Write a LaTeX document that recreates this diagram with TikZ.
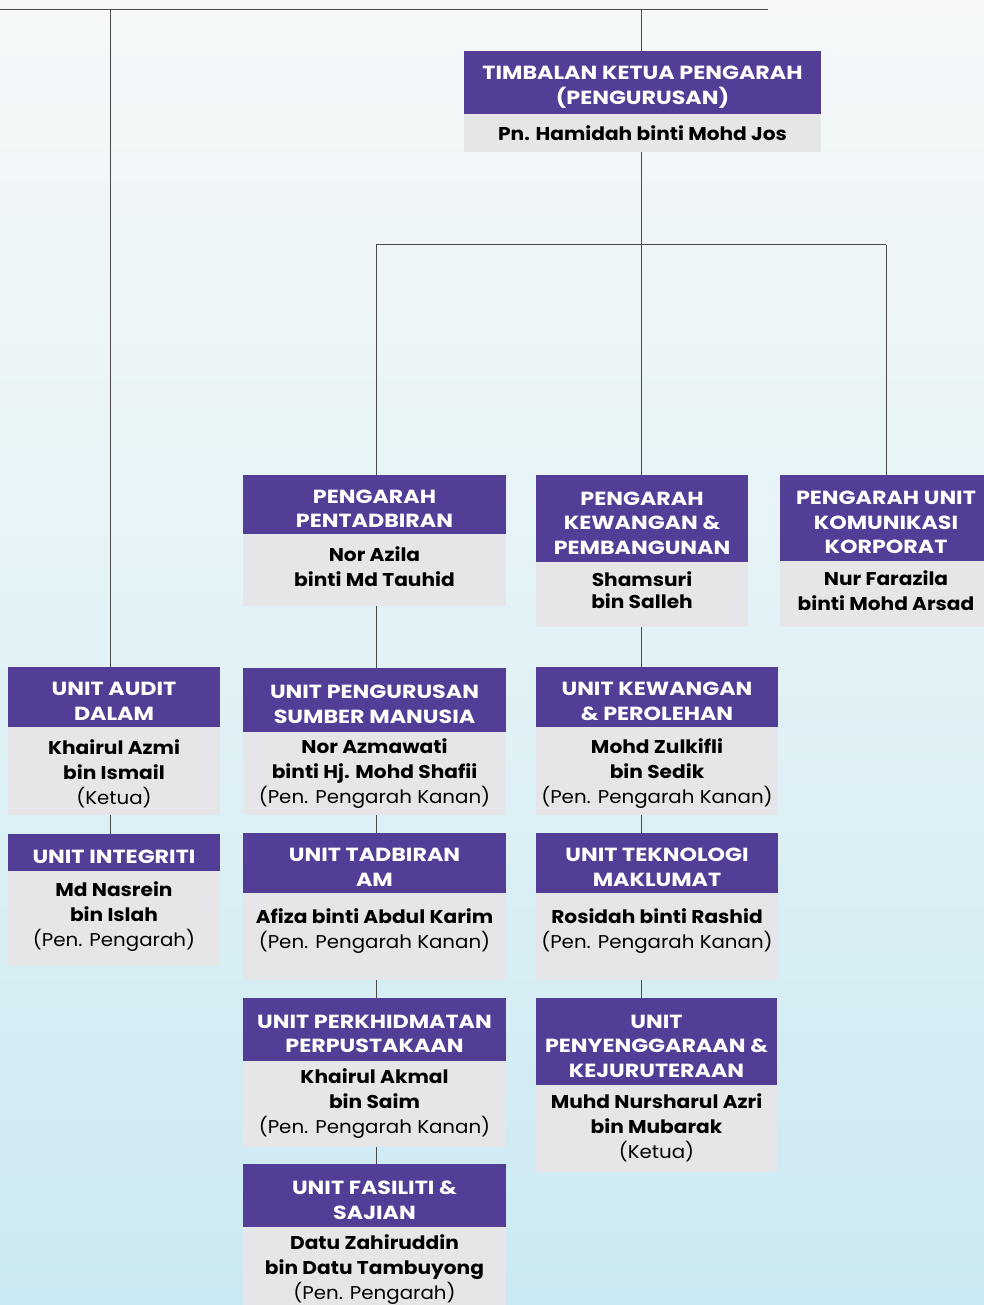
\documentclass[tikz,border=0pt]{standalone}
\usepackage{fontspec}
\setmainfont{Poppins}[UprightFeatures={FakeStretch=1.07}, BoldFeatures={FakeStretch=1.09}]
\newfontfamily\hdrfont{Poppins}[BoldFeatures={FakeStretch=1.17}]
\definecolor{purp}{HTML}{523E96}
\definecolor{greyb}{HTML}{E6E6E8}
\definecolor{bgtop}{HTML}{F6F8F9}
\definecolor{bgmid}{HTML}{E2F2F6}
\definecolor{bgbot}{HTML}{CBE9F2}
\definecolor{lnc}{HTML}{4A4A4A}
\tikzset{
 hdr/.style={fill=purp, inner sep=0pt},
 hdrtxt/.style={text=white, font=\hdrfont\bfseries\fontsize{19}{24.5}\selectfont, align=center, inner sep=0pt},
 bodybox/.style={fill=greyb, inner sep=0pt},
 bodytxt/.style={font=\fontsize{18.5}{25}\selectfont, align=center, inner sep=0pt, text=black},
 conn/.style={draw=lnc, line width=1pt},
}
\newcommand\orgunit[9]{%
 \node[hdr, minimum width={#3pt-#2pt}, minimum height={#5pt-#4pt}] (#1) at ({(#2+#3)/2},{(#4+#5)/2}) {};
 \node[hdrtxt] (#1-h) at ({(#2+#3)/2},{(#4+#5)/2+4.5}) {#7};
 \node[bodybox, minimum width={#3pt-#2pt}, minimum height={#6pt-#5pt}] (#1-b) at ({(#2+#3)/2},{(#5+#6)/2}) {};
 \node[bodytxt] (#1-t) at ({(#2+#3)/2},#9) {#8};
}
\begin{document}
\begin{tikzpicture}[x=1pt,y=-1pt]
\useasboundingbox (0,0) rectangle (984,1305);
\shade[top color=bgtop, bottom color=bgbot, middle color=bgmid] (0,0) rectangle (984,1305);
% junctions
\coordinate (tl) at (0,10);
\coordinate (tr) at (768,10);
\coordinate (ja) at (110,10);
\coordinate (jt) at (641,10);
\coordinate (j2) at (641,245);
\coordinate (j2l) at (376,245);
\coordinate (j2r) at (886,245);
% units
\orgunit{tkp}{464}{821}{51}{114}{152}{TIMBALAN KETUA PENGARAH\\(PENGURUSAN)}{\textbf{Pn. Hamidah binti Mohd Jos}}{133}
\orgunit{pent}{243}{506}{475}{534}{606}{PENGARAH\\PENTADBIRAN}{\textbf{Nor Azila}\\\textbf{binti Md Tauhid}}{567}
\orgunit{kew}{536}{748}{475}{562}{627}{PENGARAH\\KEWANGAN \&\\PEMBANGUNAN}{\textbf{Shamsuri}\\[-3pt]\textbf{bin Salleh}}{590}
\orgunit{kom}{780}{992}{475}{561}{627}{PENGARAH UNIT\\KOMUNIKASI\\KORPORAT}{\textbf{Nur Farazila}\\\textbf{binti Mohd Arsad}}{591}
\orgunit{audit}{8}{220}{667}{727}{815}{UNIT AUDIT\\DALAM}{\textbf{Khairul Azmi}\\\textbf{bin Ismail}\\(Ketua)}{774}
\orgunit{integ}{8}{220}{834}{871}{966}{UNIT INTEGRITI}{\textbf{Md Nasrein}\\\textbf{bin Islah}\\(Pen. Pengarah)}{916.5}
\orgunit{sdm}{243}{506}{668}{732}{815}{UNIT PENGURUSAN\\SUMBER MANUSIA}{\textbf{Nor Azmawati}\\\textbf{binti Hj. Mohd Shafii}\\(Pen. Pengarah Kanan)}{774}
\orgunit{tam}{243}{506}{833}{893}{980}{UNIT TADBIRAN\\AM}{\textbf{Afiza binti Abdul Karim}\\(Pen. Pengarah Kanan)}{931.5}
\orgunit{pus}{243}{506}{998}{1061}{1147}{UNIT PERKHIDMATAN\\PERPUSTAKAAN}{\textbf{Khairul Akmal}\\\textbf{bin Saim}\\(Pen. Pengarah Kanan)}{1104}
\orgunit{fas}{243}{506}{1164}{1227}{1312}{UNIT FASILITI \&\\SAJIAN}{\textbf{Datu Zahiruddin}\\\textbf{bin Datu Tambuyong}\\(Pen. Pengarah)}{1270}
\orgunit{kewp}{536}{778}{667}{727}{815}{UNIT KEWANGAN\\\& PEROLEHAN}{\textbf{Mohd Zulkifli}\\\textbf{bin Sedik}\\(Pen. Pengarah Kanan)}{774}
\orgunit{tek}{536}{778}{833}{893}{980}{UNIT TEKNOLOGI\\MAKLUMAT}{\textbf{Rosidah binti Rashid}\\(Pen. Pengarah Kanan)}{931.5}
\orgunit{pen}{536}{777}{998}{1085}{1172}{UNIT\\PENYENGGARAAN \&\\KEJURUTERAAN}{\textbf{Muhd Nursharul Azri}\\\textbf{bin Mubarak}\\(Ketua)}{1128}
% connectors
\draw[conn] (tl) -- (tr);
\draw[conn] (ja) -- (ja |- audit.north);
\draw[conn] (jt) -- (jt |- tkp.north);
\draw[conn] (tkp-b.south -| j2) -- (j2);
\draw[conn] (j2l) -- (j2r);
\draw[conn] (j2l) -- (j2l |- pent.north);
\draw[conn] (j2) -- (j2 |- kew.north);
\draw[conn] (j2r) -- (j2r |- kom.north);
\draw[conn] (pent-b.south -| j2l) -- (sdm.north -| j2l);
\draw[conn] (sdm-b.south -| j2l) -- (tam.north -| j2l);
\draw[conn] (tam-b.south -| j2l) -- (pus.north -| j2l);
\draw[conn] (pus-b.south -| j2l) -- (fas.north -| j2l);
\draw[conn] (kew-b.south -| j2) -- (kewp.north -| j2);
\draw[conn] (kewp-b.south -| j2) -- (tek.north -| j2);
\draw[conn] (tek-b.south -| j2) -- (pen.north -| j2);
\draw[conn] (audit-b.south -| ja) -- (integ.north -| ja);
\end{tikzpicture}
\end{document}
